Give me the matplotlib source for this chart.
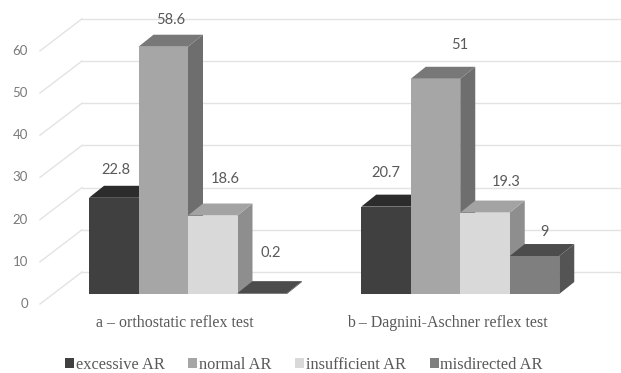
import matplotlib
matplotlib.use("Agg")
import matplotlib.pyplot as plt
from matplotlib.patches import Polygon, Rectangle

# ---- data ----
groups = ["a \u2013 orthostatic reflex test", "b \u2013 Dagnini-Aschner reflex test"]
series = ["excessive AR", "normal AR", "insufficient AR", "misdirected AR"]
excessive = [22.8, 20.7]
normal = [58.6, 51]
insufficient = [18.6, 19.3]
misdirected = [0.2, 9]
values = [excessive, normal, insufficient, misdirected]
labels_txt = [["22.8", "20.7"], ["58.6", "51"], ["18.6", "19.3"], ["0.2", "9"]]
yticks = [0, 10, 20, 30, 40, 50, 60]

# ---- styling ----
front_c = ["#404040", "#a6a6a6", "#d9d9d9", "#7f7f7f"]
top_c = ["#2c2c2c", "#787878", "#a3a3a3", "#4c4c4c"]
side_c = ["#333333", "#6e6e6e", "#8e8e8e", "#545454"]

W, H = 621, 373
fig = plt.figure(figsize=(W / 100, H / 100), dpi=100)
ax = fig.add_axes([0, 0, 1, 1])
ax.set_axis_off()

# scale: one bar width in x, values in y (front plane)
px_x = 49.5          # pixels per x unit
px_y = 4.22          # pixels per value unit
x0_px, y0_px = 89, 294
ax.set_xlim(-x0_px / px_x, (W - x0_px) / px_x)
ax.set_ylim((y0_px - H) / px_y, y0_px / px_y)

def dxu(p):
    return p / px_x

def dyu(p):
    return p / px_y

# depth offsets
bdx, bdy = dxu(15), dyu(12)        # bar depth
wall_dx, wall_dy = dxu(-7), dyu(22)  # back wall start
lab_dx, lab_dy = dxu(-49), dyu(-10)  # front edge at tick labels

grid_c = "#e3e3e3"
x_right = (W - x0_px) / px_x
for t in yticks:
    ax.plot([lab_dx, wall_dx], [t + lab_dy, t + wall_dy], color=grid_c, lw=1.0, zorder=1)
    ax.plot([wall_dx, x_right], [t + wall_dy, t + wall_dy], color=grid_c, lw=1.0, zorder=1)
    ax.text(dxu(-61), t + lab_dy, str(t), ha="right", va="center",
            fontsize=9.5, color="#7a7a7a", family="Lato")

group_start = [0.0, 5.5]
n = len(series)

# per-label placement nudges (pixels): (right, up)
nudges = [[(2, 28), (0, 34)], [(7, 27), (24, 34)], [(12, 37), (21, 31)], [(8, 40), (10, 24)]]

for g, gs in enumerate(group_start):
    for i in range(n):
        v = values[i][g]
        x = gs + i
        # right side
        ax.add_patch(Polygon([(x + 1, 0), (x + 1 + bdx, bdy), (x + 1 + bdx, v + bdy), (x + 1, v)],
                             closed=True, fc=side_c[i], ec="none", zorder=2 + i))
        # top
        ax.add_patch(Polygon([(x, v), (x + 1, v), (x + 1 + bdx, v + bdy), (x + bdx, v + bdy)],
                             closed=True, fc=top_c[i], ec="none", zorder=2 + i))
        # front
        ax.add_patch(Rectangle((x, 0), 1, v, fc=front_c[i], ec="none", zorder=2 + i))
        nx, ny = nudges[i][g]
        ax.text(x + 0.5 + dxu(nx), v + dyu(ny), labels_txt[i][g], ha="center", va="center",
                fontsize=10.5, color="#595959", family="Lato", zorder=10)
    ax.text(gs + n / 2 - 0.26, dyu(-29), groups[g], ha="center", va="center",
            fontsize=11.4, color="#595959", family="Liberation Serif")

handles = [Rectangle((0, 0), 1, 1, fc=front_c[i], ec="none") for i in range(n)]
leg = fig.legend(handles, series, loc="center", bbox_to_anchor=(304 / W, 1 - 365 / H),
                 ncol=4, frameon=False, handlelength=0.55, handleheight=0.55,
                 handletextpad=0.1, columnspacing=1.45,
                 prop={"family": "Liberation Serif", "size": 11.8})
for t in leg.get_texts():
    t.set_color("#595959")

fig.savefig("out.png", dpi=100, facecolor="white")
